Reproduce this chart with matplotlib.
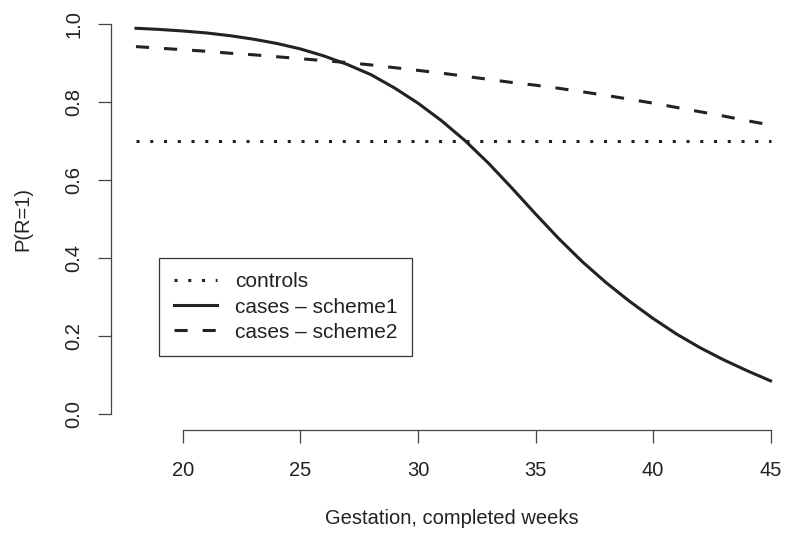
import matplotlib.pyplot as plt

plt.rcParams['font.family'] = ['Liberation Sans', 'DejaVu Sans']

# gestation in completed weeks
weeks = [18, 19, 20, 21, 22, 23, 24, 25, 26, 27, 28, 29, 30, 31,
         32, 33, 34, 35, 36, 37, 38, 39, 40, 41, 42, 43, 44, 45]
# P(R=1)
controls = [0.70, 0.70, 0.70, 0.70, 0.70, 0.70, 0.70, 0.70, 0.70, 0.70, 0.70, 0.70, 0.70, 0.70,
            0.70, 0.70, 0.70, 0.70, 0.70, 0.70, 0.70, 0.70, 0.70, 0.70, 0.70, 0.70, 0.70, 0.70]
scheme1 = [0.989, 0.986, 0.982, 0.977, 0.970, 0.961, 0.950, 0.936, 0.918, 0.896, 0.870, 0.836, 0.797, 0.752,
           0.701, 0.643, 0.579, 0.513, 0.449, 0.390, 0.337, 0.289, 0.245, 0.205, 0.170, 0.139, 0.111, 0.085]
scheme2 = [0.942, 0.938, 0.934, 0.930, 0.925, 0.921, 0.916, 0.911, 0.906, 0.901, 0.895, 0.888, 0.881, 0.874,
           0.866, 0.858, 0.850, 0.843, 0.835, 0.826, 0.817, 0.807, 0.797, 0.786, 0.775, 0.764, 0.752, 0.741]

xticks = [20, 25, 30, 35, 40, 45]
yticks = [0.0, 0.2, 0.4, 0.6, 0.8, 1.0]
ylabels = ['0.0', '0.2', '0.4', '0.6', '0.8', '1.0']

fs = 14.5
ink = '#222222'
axc = '#444444'

fig = plt.figure(figsize=(7.87, 5.37), dpi=100)
ax = fig.add_axes([0.1405, 0.2, 0.8595, 0.7844])

ax.plot(weeks, controls, color=ink, lw=2.2, linestyle=(0, (1, 3.5)), label='controls')
ax.plot(weeks, scheme1, color=ink, lw=2.2, label='cases \u2013 scheme1')
ax.plot(weeks, scheme2, color=ink, lw=2.2, linestyle=(0, (4.3, 4.9)), label='cases \u2013 scheme2')

ax.set_xlim(16.92, 45.70)
ax.set_ylim(-0.04, 1.04)

# R-style axes: only bottom/left, spanning the tick range
for s in ['top', 'right']:
    ax.spines[s].set_visible(False)
ax.spines['left'].set_bounds(0, 1)
ax.spines['bottom'].set_bounds(20, 45)
for s in ['left', 'bottom']:
    ax.spines[s].set_color(axc)
    ax.spines[s].set_linewidth(0.9)

ax.set_xticks(xticks)
ax.set_yticks(yticks)
ax.set_yticklabels(ylabels, rotation=90, va='center')
ax.tick_params(axis='both', length=9.4, width=0.9, color=axc, labelsize=fs, labelcolor=ink)
ax.tick_params(axis='x', pad=13)
ax.tick_params(axis='y', pad=10)

ax.set_xlabel('Gestation, completed weeks', fontsize=fs, color=ink, va='center')
ax.xaxis.set_label_coords(0.505, -0.21)
ax.set_ylabel('P(R=1)', fontsize=fs, color=ink, va='center')
ax.yaxis.set_label_coords(-0.1295, 0.5)

leg = ax.legend(loc='upper left', bbox_to_anchor=(159 / 787, 1 - 257.7 / 537),
                bbox_transform=fig.transFigure, fontsize=15, frameon=True, fancybox=False,
                framealpha=1, edgecolor='#333333', borderaxespad=0, borderpad=0.7,
                handlelength=2.1, handletextpad=0.85, labelspacing=0.3)
leg.get_frame().set_linewidth(0.9)
for t in leg.get_texts():
    t.set_color(ink)

fig.savefig('out.png', dpi=100)
